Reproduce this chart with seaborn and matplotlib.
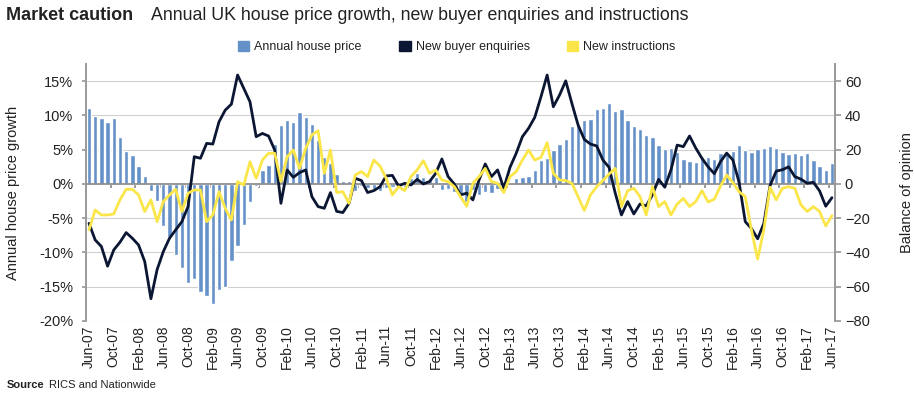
import numpy as np
import pandas as pd
import seaborn as sns
import matplotlib.pyplot as plt
from matplotlib.patches import Patch

# monthly, Jun-07 .. Jun-17
months = pd.date_range('2007-06-01', periods=121, freq='MS').strftime('%b-%y').tolist()

# annual house price growth, % (left axis)
house_price = [11.1, 9.9, 9.7, 9.0, 9.7, 6.9, 4.8,
               4.2, 2.6, 1.1, -1.0, -2.5, -6.2, -7.7, -10.3, -12.3, -14.4, -13.8, -15.8,
               -16.4, -17.5, -15.5, -15.0, -11.3, -9.0, -6.0, -2.6, -0.3, 2.0, 2.7, 5.9,
               8.6, 9.3, 9.0, 10.5, 9.8, 8.7, 6.4, 4.0, 3.1, 1.5, 0.5, 0.4,
               -1.0, -0.3, -0.6, -0.8, -1.0, -0.6, -0.4, -0.3, -0.5, 0.8, 1.6, 1.0,
               0.6, 1.0, -0.9, -0.8, -1.2, -1.5, -2.6, -0.9, -1.6, -1.2, -1.3, -0.8,
               -0.5, 0.0, 0.9, 1.0, 1.1, 2.0, 3.5, 3.8, 5.0, 5.8, 6.5, 8.4,
               8.8, 9.4, 9.5, 10.9, 11.1, 11.8, 10.6, 11.0, 9.4, 8.5, 8.0, 7.2,
               6.8, 5.7, 5.1, 5.2, 4.6, 3.6, 3.3, 3.2, 3.9, 3.9, 3.7, 4.5,
               4.4, 4.8, 5.7, 4.9, 4.7, 5.1, 5.2, 5.6, 5.3, 4.6, 4.4, 4.5,
               4.3, 4.5, 3.5, 2.6, 2.1, 3.1]

# RICS balances (right axis)
enquiries = [-23, -32.7, -36.5, -48, -38.5, -34, -28.4,
             -31.7, -35.6, -45.3, -67, -50, -39.5, -31.7, -26.8, -22, -13.2, 15.9, 15,
             23.7, 23.3, 36.3, 43.1, 46.6, 63.6, 55.8, 48, 27.6, 29.5, 28, 19.8,
             -11.3, 8.2, 3.9, 6.6, 8.2, -7.4, -13.2, -14.2, -5, -16, -16.7, -11.3,
             3.3, 2, -5, -3.9, -1.6, 4.7, 5, -1.2, 0.4, -0.6, 2.7, 0,
             1.4, 6.2, 14.6, 4.3, 0, -6.4, -5.4, -9.3, 2.3, 11.7, 4.3, 8.2,
             -2.5, 9.7, 17.9, 27.6, 32.5, 38.9, 50.9, 63.6, 45.1, 51.9, 60.2, 47,
             34.4, 26, 23.3, 22.2, 14, 9.7, -5.4, -18.1, -10.3, -17.5, -11.7, -12.8,
             -6.4, 2.7, -1.9, 8.2, 22.7, 21.8, 28, 21, 15, 10, 6, 13,
             18, 14, 1, -22, -26, -32, -23, -1, 7.5, 8.3, 10, 4.3,
             2.8, 0.4, 1, -4, -13, -8]

instructions = [-26.8, -15.2, -18.1, -18.1, -17.5, -9.3, -3.1,
                -3.1, -6.4, -16.1, -9.3, -22, -10.3, -6.4, -3.1, -16.1, -5.4, -3.5, -3.5,
                -22, -18.1, -4.5, -14.2, -21, 1.4, -0.6, 13, 3.3, 14, 17.9, 17.9,
                1.4, 15.9, 19.8, 9.1, 20.8, 28.6, 31.1, 6.2, 19.8, -5, -4.5, -11.3,
                5.2, 7.2, 4.3, 14, 10.5, 3.3, -6.4, -1.6, -3.9, 4.3, 8.2, 13.6,
                6.2, 8.2, 2.3, 1.4, -1.6, -7.4, -13, 0.4, 4.3, 9.1, 1.4, 0.4,
                -5, 4.3, 7.2, 14, 19.8, 14, 15.5, 24.1, 6.2, 2.3, 2, 0.4,
                -7.4, -15.5, -6.4, -1.6, 2, 5.8, 9.1, -13.2, -3.9, -2.5, -7.4, -18.1,
                -1.6, -13.2, -10.3, -18.1, -11.7, -8.4, -13.2, -10.3, -3.9, -10.5, -8.9, -1.2,
                5.2, 0.8, -4.5, -7.4, -26.8, -43.9, -26.8, -1.9, -9.3, -2.5, -1.6, -2.5,
                -12.2, -16.1, -13.2, -16.1, -24.5, -18.5]

bar_col = '#6591c9'
navy = '#0b1633'
yellow = '#fbe64a'
txt = '#222222'
axis_col = '#9a9a9a'

df = pd.DataFrame({'month': months, 'price': house_price,
                   'enq': enquiries, 'ins': instructions})
df['pos'] = np.arange(len(df))

sns.set_theme(style='white')
plt.rcParams['font.family'] = ['Liberation Sans', 'DejaVu Sans']

fig = plt.figure(figsize=(9.14, 3.98), dpi=100)
ax = fig.add_axes([0.094, 0.1935, 0.8196, 0.6455])

sns.barplot(data=df, x='month', y='price', color=bar_col, saturation=1,
            width=0.7, ax=ax)

ax2 = ax.twinx()
sns.lineplot(data=df, x='pos', y='enq', color=navy, lw=2.0, ax=ax2)
sns.lineplot(data=df, x='pos', y='ins', color=yellow, lw=2.0, ax=ax2)

ax.set_xlim(-0.5, len(df) - 0.5)
ax.set_ylim(-20, 17.5)
ax2.set_ylim(-80, 70)

# left axis
ax.set_yticks(range(-20, 16, 5))
ax.set_yticklabels([f'{v}%' for v in range(-20, 16, 5)])
ax.yaxis.grid(True, color='#d0d0d0', lw=0.8)
ax.set_axisbelow(True)
ax.tick_params(axis='y', left=True, length=3, color=axis_col, labelsize=10.5,
               labelcolor=txt, pad=6)
ax.set_ylabel('Annual house price growth', fontsize=10.5, color=txt, labelpad=14)

# right axis
ax2.set_yticks(range(-80, 61, 20))
ax2.tick_params(axis='y', right=True, length=4, color=axis_col, labelsize=10.5,
                labelcolor=txt, pad=3)
ax2.set_ylabel('Balance of opinion', fontsize=10.5, color=txt, labelpad=22)
ax2.set_xlabel('')
ax2.grid(False)

for a in (ax, ax2):
    a.spines['top'].set_visible(False)
    a.spines['left'].set_color(axis_col)
    a.spines['right'].set_color(axis_col)
ax2.spines['bottom'].set_visible(False)

# category axis line sits on zero, with ticks between groups of four months
ax.spines['bottom'].set_position(('data', 0))
ax.spines['bottom'].set_color('#8c8c8c')
ax.set_xticks(np.arange(3.5, len(df) - 1, 4))
ax.set_xticklabels([])
ax.tick_params(axis='x', bottom=True, length=3, color='#8c8c8c', direction='out')
ax.set_xlabel('')

sec = ax.secondary_xaxis('bottom')
sec.set_xticks(range(0, len(df), 4), labels=months[::4], rotation=90)
sec.tick_params(length=0, labelsize=10, labelcolor=txt, pad=3)
sec.spines['bottom'].set_visible(False)

# titles
fig.text(0.007, 0.962, 'Market caution', fontsize=13, weight='bold',
         color=txt, va='center')
fig.text(0.165, 0.962,
         'Annual UK house price growth, new buyer enquiries and instructions',
         fontsize=12.8, color=txt, va='center')

handles = [Patch(color=bar_col), Patch(color=navy), Patch(color=yellow)]
fig.legend(handles, ['Annual house price', 'New buyer enquiries', 'New instructions'],
           loc='center', bbox_to_anchor=(0.5, 1 - 47 / 398), ncol=3, frameon=False,
           fontsize=9, handlelength=0.9, handleheight=0.9, handletextpad=0.4,
           columnspacing=3.0, labelcolor=txt)

fig.text(0.007, 1 - 385 / 398, 'Source', fontsize=8, weight='bold', color=txt,
         va='center')
fig.text(0.054, 1 - 385 / 398, 'RICS and Nationwide', fontsize=8, color=txt,
         va='center')

fig.savefig('out.png', dpi=100)
